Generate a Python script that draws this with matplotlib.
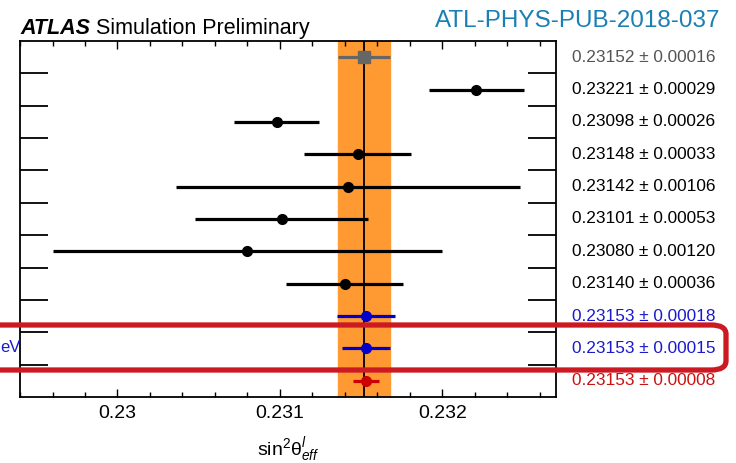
import matplotlib.pyplot as plt
from matplotlib.patches import FancyBboxPatch
from matplotlib.ticker import MultipleLocator

plt.rcParams['font.family'] = ['Liberation Sans', 'DejaVu Sans']
plt.rcParams['mathtext.fontset'] = 'custom'
plt.rcParams['mathtext.rm'] = 'Liberation Sans'
plt.rcParams['mathtext.it'] = 'Liberation Sans:italic'

# rows from top to bottom
values = [0.23152, 0.23221, 0.23098, 0.23148, 0.23142, 0.23101, 0.23080, 0.23140, 0.23153, 0.23153, 0.23153]
errors = [0.00016, 0.00029, 0.00026, 0.00033, 0.00106, 0.00053, 0.00120, 0.00036, 0.00018, 0.00015, 0.00008]
colors = ['#666666'] + ['black'] * 7 + ['#0000cc', '#0000cc', '#cc0000']
text_colors = ['#555555'] + ['black'] * 7 + ['#1a1acc', '#1a1acc', '#cc1111']
markers = ['s'] + ['o'] * 10
ref_value = 0.23152
ref_error = 0.00016

fig = plt.figure(figsize=(7.36, 4.63), dpi=100)
ax = fig.add_axes([0.0272, 0.1425, 0.7283, 0.769])

n = len(values)
ys = [n - 0.5 - i for i in range(n)]

ax.axvspan(ref_value - ref_error, ref_value + ref_error, color='#ff9a33', zorder=0)
ax.axvline(ref_value, color='black', lw=1.3, zorder=1)

for v, e, y, c, m in zip(values, errors, ys, colors, markers):
    ax.errorbar(v, y, xerr=e, fmt=m, color=c, ms=7 if m == 'o' else 8,
                elinewidth=2.3, capsize=0, zorder=3)

for v, e, y, c in zip(values, errors, ys, text_colors):
    ax.text(1.03, y, f'{v:.5f} ± {e:.5f}', transform=ax.get_yaxis_transform(),
            ha='left', va='center', fontsize=12.4, color=c)

ax.set_xlim(0.2294, 0.2327)
ax.set_ylim(0, n)
ax.xaxis.set_minor_locator(MultipleLocator(0.0002))
ax.set_xticks([0.23, 0.231, 0.232])
ax.set_xticklabels(['0.23', '0.231', '0.232'])
ax.set_yticks(range(1, n))
ax.set_yticklabels([])
ax.tick_params(axis='x', which='major', direction='in', length=6, width=1, top=True,
               labelsize=14, pad=6)
ax.tick_params(axis='x', which='minor', direction='in', length=3.5, width=1, top=True)
ax.tick_params(axis='y', which='major', direction='in', length=20, width=1.3, right=True)
for s in ax.spines.values():
    s.set_linewidth(1.3)

ax.set_xlabel('sin$^{2}$θ$^{l}_{eff}$', fontsize=14, labelpad=9)

# header texts
t1 = fig.text(20 / 736, 1 - 34 / 463, 'ATLAS', fontsize=15.5, fontweight='bold',
              fontstyle='italic', ha='left', va='baseline')
ax.annotate(' Simulation Preliminary', xy=(1, 0), xycoords=t1, fontsize=15.5,
            ha='left', va='bottom', annotation_clip=False)
fig.text(720 / 736, 1 - 27 / 463, 'ATL-PHYS-PUB-2018-037', fontsize=17.5,
         color='#1a7fb3', ha='right', va='baseline')

# label on the left, cut by the frame in the reference
fig.text(0.5 / 736, 1 - 348 / 463, 'eV', fontsize=12, color='#1a1acc',
         ha='left', va='center')

# highlight box
box = FancyBboxPatch((-20 / 736, 1 - 370 / 463), 746 / 736, 45 / 463,
                     boxstyle='round,pad=0,rounding_size=0.02',
                     transform=fig.transFigure, fill=False,
                     edgecolor='#cc1a22', lw=3.8, zorder=10, clip_on=False)
fig.patches.append(box)

fig.savefig('out.png', dpi=100)
